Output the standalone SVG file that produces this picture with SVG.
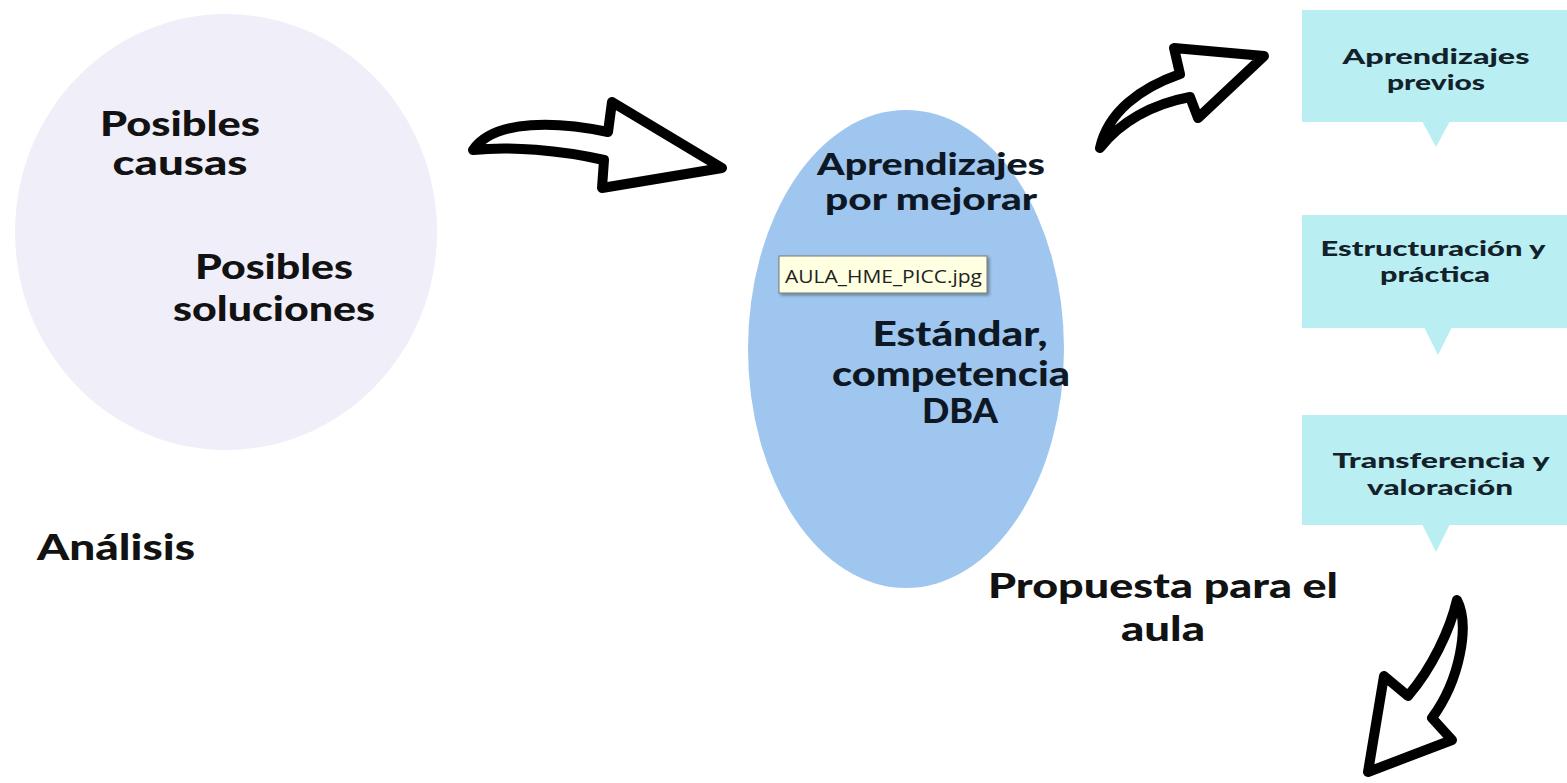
<svg xmlns="http://www.w3.org/2000/svg" width="1567" height="783" viewBox="0 0 1567 783">
<defs>
<style>
.t{font-family:Lato,"Open Sans","DejaVu Sans",sans-serif;font-weight:900;fill:#121212;text-anchor:middle}
.e{fill:#0e1724}
.b{font-size:21px;fill:#13222a}
.box{fill:#b9eff3}
.arr{fill:#fff;stroke:#000;stroke-width:10;stroke-linejoin:round;stroke-linecap:round}
</style>
<filter id="sh" x="-5%" y="-10%" width="115%" height="140%"><feDropShadow dx="2" dy="2" stdDeviation="1.5" flood-color="#000" flood-opacity="0.35"/></filter>
</defs>
<rect width="1567" height="783" fill="#fff"/>
<g id="analisis">
<ellipse cx="226" cy="232" rx="211" ry="218" fill="#f0eef9"/>
<text class="t" x="180" y="136" font-size="34" textLength="160" lengthAdjust="spacingAndGlyphs">Posibles</text>
<text class="t" x="180" y="175" font-size="34" textLength="135" lengthAdjust="spacingAndGlyphs">causas</text>
<text class="t" x="274" y="279" font-size="34" textLength="158" lengthAdjust="spacingAndGlyphs">Posibles</text>
<text class="t" x="274" y="321" font-size="34" textLength="202" lengthAdjust="spacingAndGlyphs">soluciones</text>
<text class="t" x="116" y="560" font-size="36" font-weight="700" textLength="158" lengthAdjust="spacingAndGlyphs">Análisis</text>
</g>
<g id="aprendizajes">
<ellipse cx="906" cy="349" rx="158" ry="239" fill="#9fc6ef"/>
<text class="t e" x="931" y="175" font-size="30" textLength="228" lengthAdjust="spacingAndGlyphs">Aprendizajes</text>
<text class="t e" x="931" y="210" font-size="30" textLength="212" lengthAdjust="spacingAndGlyphs">por mejorar</text>
<text class="t e" x="960" y="346" font-size="34" textLength="175" lengthAdjust="spacingAndGlyphs">Estándar,</text>
<text class="t e" x="951" y="386" font-size="34" textLength="238" lengthAdjust="spacingAndGlyphs">competencia</text>
<text class="t e" x="960" y="423" font-size="34" textLength="76" lengthAdjust="spacingAndGlyphs">DBA</text>
</g>
<g id="tooltip">
<rect x="779" y="256" width="208" height="37" fill="#ffffe1" stroke="#767676" stroke-width="1" filter="url(#sh)"/>
<text x="785" y="283" font-family="'Open Sans','Liberation Sans',sans-serif" font-size="19" fill="#222" textLength="197" lengthAdjust="spacingAndGlyphs">AULA_HME_PICC.jpg</text>
</g>
<g id="previos">
<rect class="box" x="1302" y="10" width="265" height="112"/>
<polygon class="box" points="1422,121 1450,121 1436,147"/>
<text class="t b" x="1436" y="64" textLength="187" lengthAdjust="spacingAndGlyphs">Aprendizajes</text>
<text class="t b" x="1436" y="90" textLength="98" lengthAdjust="spacingAndGlyphs">previos</text>
</g>
<g id="estructuracion">
<rect class="box" x="1302" y="215" width="265" height="113"/>
<polygon class="box" points="1424,327 1452,327 1438,355"/>
<text class="t b" x="1433" y="256" textLength="225" lengthAdjust="spacingAndGlyphs">Estructuración y</text>
<text class="t b" x="1435" y="282" textLength="110" lengthAdjust="spacingAndGlyphs">práctica</text>
</g>
<g id="transferencia">
<rect class="box" x="1302" y="415" width="265" height="110"/>
<polygon class="box" points="1422,524 1450,524 1436,552"/>
<text class="t b" x="1441" y="468" textLength="217" lengthAdjust="spacingAndGlyphs">Transferencia y</text>
<text class="t b" x="1440" y="495" textLength="146" lengthAdjust="spacingAndGlyphs">valoración</text>
</g>
<g id="propuesta">
<text class="t" x="1163" y="598" font-size="35" textLength="350" lengthAdjust="spacingAndGlyphs">Propuesta para el</text>
<text class="t" x="1163" y="641" font-size="35" textLength="84" lengthAdjust="spacingAndGlyphs">aula</text>
</g>
<g id="connectors">
<path class="arr" d="M 473 150 C 495 118, 560 122, 608 132 L 612 102 L 722 168 L 602 188 L 604 160 C 560 150, 510 146, 473 150 Z"/>
<path class="arr" d="M 1100 148 C 1108 112, 1140 88, 1180 74 L 1174 48 L 1264 56 L 1198 118 L 1190 97 C 1152 104, 1120 122, 1100 148 Z"/>
<path class="arr" d="M 1457 600 C 1470 625, 1460 680, 1432 718 L 1452 740 L 1368 772 L 1384 676 L 1408 696 C 1432 668, 1450 630, 1457 600 Z"/>
</g>
</svg>
